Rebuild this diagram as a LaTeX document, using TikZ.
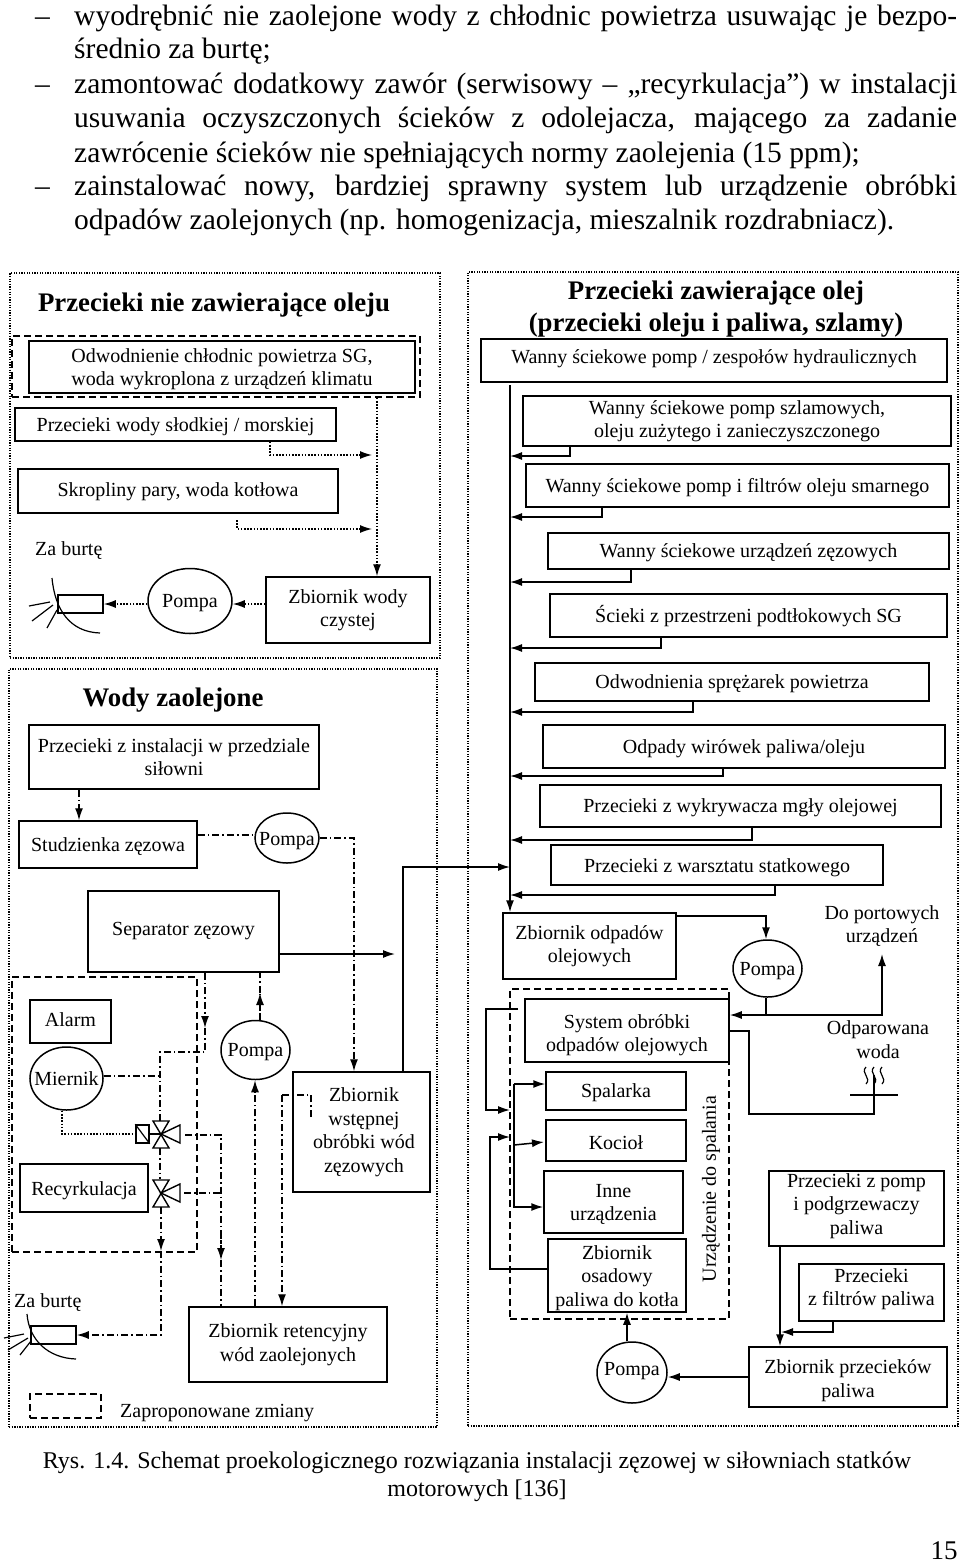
\documentclass[tikz,border=0pt]{standalone}
\usepackage{fontspec}
\setmainfont{Liberation Serif}
\usetikzlibrary{arrows.meta, positioning, shapes.geometric}
\newcommand{\dropby}[1]{\rule{0pt}{#1}}
\newcommand{\liftby}[1]{\rule[-#1]{0pt}{0pt}}
\tikzset{
    txt/.style={inner sep=0pt, align=center, font=\fontsize{20}{23.5}\selectfont, execute at begin node={\rule{0pt}{18pt}}},
    box/.style={txt, draw, line width=1.5pt},
    pump/.style={box, ellipse},
    heading/.style={inner sep=0pt, align=center, font=\fontsize{26.8}{32}\selectfont\bfseries},
    bodyline/.style={inner sep=0pt, anchor=base west, font=\fontsize{29.5}{34}\selectfont},
    lift/.style={text height=14pt, text depth=#1},
    panel/.style={draw, line width=1.1pt, dash pattern=on 1.3pt off 1.3pt, inner sep=0pt},
    changed/.style={draw, line width=1.5pt, dash pattern=on 7pt off 4pt, inner sep=0pt},
    flowclean/.style={line width=1.3pt, dash pattern=on 1.6pt off 1.6pt},
    flowoily/.style={line width=1.3pt, dash pattern=on 7pt off 3pt on 1.6pt off 3pt},
    flowoil/.style={line width=1.5pt},
}
\begin{document}
\begin{tikzpicture}[x=1pt, y=-1pt, >={Latex[length=12pt,width=8pt]}]
    \useasboundingbox (0,0) rectangle (960,1564);

    % Text above the figure
    \node[bodyline] (dasha) at (35,25) {–};
    \node[bodyline] (linea) at (74,25) {\makebox[883pt][s]{wyodrębnić nie zaolejone wody z chłodnic powietrza usuwając je bezpo-}};
    \node[bodyline] (lineb) at (74,58) {średnio za burtę;};
    \node[bodyline] (dashb) at (35,93) {–};
    \node[bodyline] (linec) at (74,93) {\makebox[883pt][s]{zamontować dodatkowy zawór (serwisowy – „recyrkulacja”) w instalacji}};
    \node[bodyline] (lined) at (74,127) {\makebox[883pt][s]{usuwania oczyszczonych ścieków z odolejacza, mającego za zadanie}};
    \node[bodyline] (linee) at (74,162) {zawrócenie ścieków nie spełniających normy zaolejenia (15 ppm);};
    \node[bodyline] (dashc) at (35,195) {–};
    \node[bodyline] (linef) at (74,195) {\makebox[883pt][s]{zainstalować nowy, bardziej sprawny system lub urządzenie obróbki}};
    \node[bodyline] (lineg) at (74,229) {odpadów zaolejonych (np. homogenizacja, mieszalnik rozdrabniacz).};

    % Panels
    \node[panel, minimum width=430pt, minimum height=385pt] (panelclean) at (225,465.5) {};
    \node[panel, minimum width=428pt, minimum height=758pt] (paneloily) at (223,1048) {};
    \node[panel, minimum width=490pt, minimum height=1154pt] (paneloil) at (713,849) {};

    % Leaks without oil
    \node[heading] (titleclean) at (214,305) {Przecieki nie zawierające oleju};
    \node[changed, minimum width=408pt, minimum height=61pt] (changea) at (216,366.5) {};
    \node[box, minimum width=386pt, minimum height=52pt] (chlodnice) at (222,367) {\dropby{18pt}Odwodnienie chłodnic powietrza SG,\\woda wykroplona z urządzeń klimatu};
    \node[box, minimum width=321pt, minimum height=33pt] (slodka) at (175.5,424.5) {Przecieki wody słodkiej / morskiej};
    \node[box, minimum width=320pt, minimum height=44pt, lift=4pt] (skropliny) at (178,491) {Skropliny pary, woda kotłowa};
    \node[txt, anchor=west] (burtaa) at (35,548) {Za burtę};
    \node[box, minimum width=45pt, minimum height=14pt] (pipea) at (80.5,604) {};
    \node[pump, minimum width=84pt, minimum height=65pt] (pompa) at (190,601) {\makebox[0pt]{Pompa}};
    \node[box, minimum width=164pt, minimum height=66pt] (czysta) at (348,610) {Zbiornik wody\\czystej};
    \draw[line width=1.2pt] (52,578) .. controls (55,610) and (70,632) .. (100,633);
    \draw[line width=1.2pt] (29,606) -- (50,602) (32,621) -- (53,605) (47,628) -- (57,610);
    \coordinate (starta) at (237,520);
    \coordinate (mergea) at (372,455);
    \coordinate (mergeb) at (372,529);
    \draw[flowclean, ->] (changea.south -| 377,0) -- (czysta.north -| 377,0);
    \draw[flowclean, ->] (slodka.south -| 270,0) |- (mergea);
    \draw[flowclean, ->] (starta) |- (mergeb);
    \draw[flowclean, ->] (czysta.west |- 0,604) -- (pompa.east |- 0,604);
    \draw[flowclean, ->] (pompa.west |- 0,604) -- (pipea.east |- 0,604);

    % Oily water
    \node[heading] (titleoily) at (173,700) {Wody zaolejone};
    \node[box, minimum width=290pt, minimum height=64pt] (silownia) at (174,757) {Przecieki z instalacji w przedziale\\siłowni};
    \node[box, minimum width=178pt, minimum height=47pt] (studzienka) at (108,844.5) {Studzienka zęzowa};
    \node[pump, minimum width=64pt, minimum height=50pt, lift=-2pt] (pompb) at (287,838) {\makebox[0pt]{Pompa}};
    \node[box, minimum width=191pt, minimum height=81pt, lift=7pt] (separator) at (183.5,931.5) {Separator zęzowy};
    \node[changed, minimum width=185pt, minimum height=275pt] (changeb) at (104.5,1114.5) {};
    \node[box, minimum width=81pt, minimum height=43pt, lift=5pt] (alarm) at (70.5,1021.5) {Alarm};
    \node[pump, minimum width=73pt, minimum height=63pt, lift=0pt] (miernik) at (66.5,1078.5) {\makebox[0pt]{Miernik}};
    \node[box, minimum width=128pt, minimum height=48pt, lift=-6pt] (recyrkulacja) at (84,1188) {Recyrkulacja};
    \node[pump, minimum width=69pt, minimum height=59pt] (pompc) at (255.5,1050) {\makebox[0pt]{Pompa}};
    \node[box, minimum width=137pt, minimum height=120pt] (wstepna) at (361.5,1132) {\hspace{5pt}Zbiornik\\\hspace{5pt}wstępnej\\\hspace{5pt}obróbki wód\\\hspace{5pt}zęzowych};
    \node[box, minimum width=198pt, minimum height=75pt] (retencja) at (288,1344.5) {Zbiornik retencyjny\\wód zaolejonych};
    \node[txt, anchor=west] (burtab) at (14,1300) {Za burtę};
    \node[box, minimum width=45pt, minimum height=10pt] (pipeb) at (53.5,1335) {};
    \node[changed, minimum width=71pt, minimum height=24pt] (legend) at (65.5,1406) {};
    \node[txt, anchor=west] (legendtext) at (120,1411) {Zaproponowane zmiany};
    \draw[line width=1.2pt] (27,1314) .. controls (29,1340) and (48,1358) .. (76,1359);
    \draw[line width=1.2pt] (4,1338) -- (24,1334) (8,1350) -- (28,1338) (20,1355) -- (31,1341);

    % Valves
    \node[box, minimum width=13pt, minimum height=18pt] (actuator) at (142.5,1134) {};
    \draw[line width=1.2pt] (actuator.north west) -- (actuator.south east);
    \coordinate (valvea) at (161,1134);
    \coordinate (valveb) at (161,1193);
    \foreach \y in {1134, 1193} {
        \draw[line width=1.4pt] (153,\y-13) -- (169,\y-13) -- (153,\y+14) -- (169,\y+14) -- cycle;
        \draw[line width=1.4pt] (161,\y) -- (180,\y-9) -- (180,\y+9) -- cycle;
    }
    \draw[line width=1.4pt] (actuator.east) -- (valvea);

    % Oily water flows
    \coordinate (sepdrop) at (205,1028);
    \coordinate (sepriser) at (260,993);
    \coordinate (valveout) at (161,1251);
    \coordinate (valveouta) at (185,1135);
    \coordinate (valveoutb) at (184,1193);
    \coordinate (retdrop) at (221,1260);
    \coordinate (weststart) at (311,1117);
    \draw[flowoily, ->] (silownia.south -| 79,0) -- (studzienka.north -| 79,0);
    \draw[flowoily] (studzienka.east |- 0,835) -- (pompb.west |- 0,835);
    \draw[flowoily, ->] (pompb.east) -| (wstepna.north -| 354,0);
    \draw[flowoil, ->] (separator.east |- 0,954) -- (395,954);
    \draw[flowoily, ->] (separator.south -| 205,0) -- (sepdrop);
    \draw[flowoily] (sepdrop) -- (205,1052) -| (160,1121);
    \draw[flowoily] (miernik.east |- 0,1076) -- (160,1076);
    \draw[flowclean] (miernik.south -| 62,0) |- (actuator.west);
    \draw[flowoily] (160,1148) -- (160,1179);
    \draw[flowoily] (valveouta) -| (retdrop);
    \draw[flowoily, ->] (221,1232) -- (retdrop);
    \draw[flowoily] (retdrop) -- (retencja.north -| 221,0);
    \draw[flowoily] (valveoutb) -- (221,1193);
    \draw[flowoily, ->] (161,1207) -- (valveout);
    \draw[flowoily, ->] (valveout) |- (pipeb.east |- 0,1335);
    \draw[flowoily, ->] (retencja.north -| 255,0) -- (pompc.south -| 255,0);
    \draw[flowoily] (pompc.north -| 260,0) -- (sepriser);
    \draw[flowoily, <-] (sepriser) -- (260,1012);
    \draw[flowoily] (sepriser) -- (separator.south -| 260,0);
    \draw[flowoily] (weststart) |- (282,1095);
    \draw[flowoily, ->] (282,1095) -- (retencja.north -| 282,0);

    % Leaks with oil
    \node[heading] (titleoil) at (716,309) {Przecieki zawierające olej\\(przecieki oleju i paliwa, szlamy)};
    \node[box, minimum width=466pt, minimum height=43pt, lift=9pt] (wannaa) at (714,360.5) {Wanny ściekowe pomp / zespołów hydraulicznych};
    \node[box, minimum width=428pt, minimum height=50pt] (wannab) at (737,421) {Wanny ściekowe pomp szlamowych,\\oleju zużytego i zanieczyszczonego};
    \node[box, minimum width=423pt, minimum height=43pt] (wannac) at (737.5,485.5) {Wanny ściekowe pomp i filtrów oleju smarnego};
    \node[box, minimum width=401pt, minimum height=36pt] (wannad) at (748.5,551) {Wanny ściekowe urządzeń zęzowych};
    \node[box, minimum width=397pt, minimum height=43pt] (scieki) at (748.5,615.5) {Ścieki z przestrzeni podtłokowych SG};
    \node[box, minimum width=394pt, minimum height=38pt] (sprezarki) at (732,682) {Odwodnienia sprężarek powietrza};
    \node[box, minimum width=402pt, minimum height=43pt] (wirowki) at (744,746.5) {Odpady wirówek paliwa/oleju};
    \node[box, minimum width=401pt, minimum height=42pt] (mgla) at (740.5,806) {Przecieki z wykrywacza mgły olejowej};
    \node[box, minimum width=332pt, minimum height=40pt, lift=-6pt] (warsztat) at (717,865) {Przecieki z warsztatu statkowego};
    \node[box, minimum width=173pt, minimum height=66pt] (odpady) at (589.5,946) {Zbiornik odpadów\\olejowych};
    \node[pump, minimum width=69pt, minimum height=57pt] (pompd) at (767.5,968.5) {\makebox[0pt]{Pompa}};
    \node[txt] (portowe) at (882,926) {Do portowych\\urządzeń};
    \node[changed, minimum width=219pt, minimum height=330pt] (changec) at (619.5,1154) {};
    \node[box, minimum width=204pt, minimum height=63pt] (obrobka) at (627,1030.5) {\dropby{23pt}System obróbki\\odpadów olejowych};
    \node[txt] (odparowana) at (878,1039.5) {Odparowana\\woda};
    \node[box, minimum width=140pt, minimum height=38pt] (spalarka) at (616,1091) {Spalarka};
    \node[box, minimum width=140pt, minimum height=41pt] (kociol) at (616,1140.5) {Kocioł};
    \node[box, minimum width=139pt, minimum height=62pt] (inne) at (613.5,1202) {\dropby{18pt}Inne\\urządzenia};
    \node[box, minimum width=138pt, minimum height=73pt] (osadowy) at (617,1275.5) {\dropby{19pt}Zbiornik\\osadowy\\paliwa do kotła};
    \node[txt, rotate=90] (spalanie) at (709,1189) {Urządzenie do spalania};
    \node[pump, minimum width=70pt, minimum height=61pt, lift=9pt] (pompe) at (632,1372.5) {\makebox[0pt]{Pompa}};
    \node[box, minimum width=198pt, minimum height=60pt] (przecieki) at (848,1377) {\dropby{21pt}Zbiornik przecieków\\paliwa};
    \node[box, minimum width=175pt, minimum height=75pt] (podgrzew) at (856.5,1208.5) {Przecieki z pomp\\i podgrzewaczy\\paliwa\liftby{9pt}};
    \node[box, minimum width=145pt, minimum height=57pt] (filtry) at (871.5,1292.5) {Przecieki\\z filtrów paliwa\liftby{11pt}};

    % Steam mark
    \foreach \x in {866, 874, 882} {
        \draw[line width=1.2pt] (\x,1067) .. controls (\x-6,1073) and (\x+6,1078) .. (\x,1084);
    }
    \draw[line width=1.2pt] (850,1095) -- (898,1095);

    % Oil flows
    \coordinate (busa) at (510,385);
    \coordinate (busb) at (514,1084);
    \coordinate (exita) at (518,1009);
    \coordinate (steam) at (874,1075);
    \coordinate (portend) at (882,954);
    \draw[flowoil, ->] (busa) -- (odpady.north -| busa);
    \foreach \b/\x/\y in {wannab/570/456, wannac/602/517, wannad/631/582, scieki/661/648, sprezarki/693/712, wirowki/723/776, mgla/752/840, warsztat/775/895} {
        \draw[flowoil, ->] (\b.south -| \x,0) |- (busa |- 0,\y);
    }
    \draw[flowoil, ->] (wstepna.north -| 403,0) |- (busa |- 0,867);
    \draw[flowoil, ->] (odpady.east |- 0,916) -| (pompd.north -| 766,0);
    \draw[flowoil, ->] (pompd.south -| 766,0) |- (obrobka.east |- 0,1015);
    \draw[flowoil, ->] (766,1015) -| (portend);
    \draw[flowoil] (obrobka.east |- 0,1031) -| (749,1114) -| (steam);
    \draw[flowoil, ->] (exita) -| (486,1110) -- (510,1110);
    \draw[flowoil, ->] (osadowy.west |- 0,1269) -| (490,1137) -- (510,1137);
    \draw[flowoil, ->] (busb) -- (spalarka.west |- busb);
    \draw[flowoil, ->] (514,1145) -- (544,1142);
    \draw[flowoil, ->] (busb) |- (inne.west |- 0,1207);
    \draw[flowoil, ->] (pompe.north -| 627,0) -- (osadowy.south -| 627,0);
    \draw[flowoil, ->] (przecieki.west |- 0,1377) -- (pompe.east |- 0,1377);
    \draw[flowoil, ->] (podgrzew.south -| 780,0) -- (przecieki.north -| 780,0);
    \draw[flowoil, ->] (filtry.south -| 833,0) |- (781,1332);

    % Caption and page number
    \node[txt, font=\fontsize{24}{28}\selectfont] (captiona) at (477,1462) {Rys. 1.4. Schemat proekologicznego rozwiązania instalacji zęzowej w siłowniach statków};
    \node[txt, font=\fontsize{24}{28}\selectfont] (captionb) at (477,1490) {motorowych [136]};
    \node[txt, font=\fontsize{27}{32}\selectfont] (pagenum) at (944,1551) {15};
\end{tikzpicture}
\end{document}
